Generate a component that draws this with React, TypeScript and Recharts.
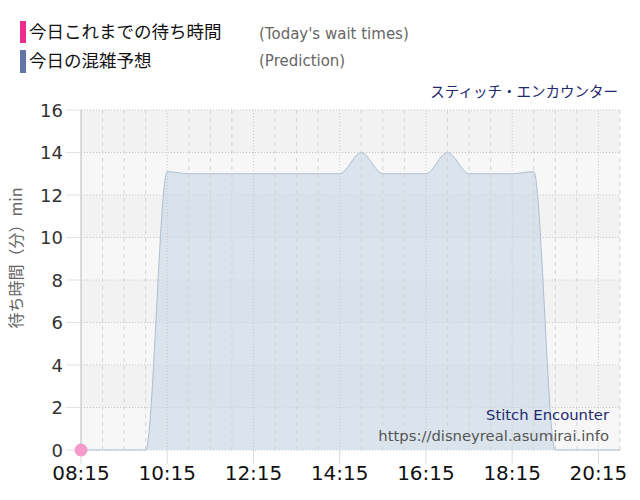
import React from "react";
import {
  ComposedChart,
  Area,
  Line,
  XAxis,
  YAxis,
  CartesianGrid,
  ReferenceLine,
} from "recharts";

// ---- data ----
const times = [
  "08:15", "08:45", "09:15", "09:45", "10:15", "10:45", "11:15", "11:45",
  "12:15", "12:45", "13:15", "13:45", "14:15", "14:45", "15:15", "15:45",
  "16:15", "16:45", "17:15", "17:45", "18:15", "18:45", "19:15", "19:45",
  "20:15", "20:45",
];
const prediction = [
  0, 0, 0, 0, 13.1, 13, 13, 13,
  13, 13, 13, 13, 13, 14, 13, 13,
  13, 14, 13, 13, 13, 13.1, 0, 0,
  0, 0,
];
const todayWait: (number | null)[] = [0];
const xTickLabels = ["08:15", "10:15", "12:15", "14:15", "16:15", "18:15", "20:15"];
const yTicks = [0, 2, 4, 6, 8, 10, 12, 14, 16];

const toMin = (s: string) => {
  const [h, m] = s.split(":").map(Number);
  return h * 60 + m;
};
const fmt = (v: number) => {
  const h = Math.floor(v / 60);
  const m = v % 60;
  return `${String(h).padStart(2, "0")}:${String(m).padStart(2, "0")}`;
};

const data = times.map((t, i) => ({
  t: toMin(t),
  prediction: prediction[i],
  today: i < todayWait.length ? todayWait[i] : null,
}));

const xMin = toMin(times[0]);
const xMax = toMin(times[times.length - 1]);
const xTicks = xTickLabels.map(toMin);
const gridTimes: number[] = [];
for (let v = xMin + 30; v <= xMax; v += 30) gridTimes.push(v);

const LATIN = "'DejaVu Sans', Verdana, sans-serif";
const CJK = "'Noto Sans CJK JP', sans-serif";

const XTick = (props: any) => {
  const { x, y, payload } = props;
  return (
    <text x={x} y={y} dy={15} textAnchor="middle" fontSize={20} fill="#111" fontFamily={LATIN}>
      {fmt(payload.value)}
    </text>
  );
};
const YTick = (props: any) => {
  const { x, y, payload } = props;
  return (
    <text x={x} y={y} dy={6.5} textAnchor="end" fontSize={18} fill="#333" fontFamily={LATIN}>
      {payload.value}
    </text>
  );
};

export default function App() {
  return (
    <div style={{ position: "absolute", left: 0, top: 0, width: 640, height: 500, background: "#fff" }}>
      <ComposedChart
        width={640}
        height={500}
        data={data}
        margin={{ top: 110, right: 20, left: 0, bottom: 0 }}
      >
        <CartesianGrid
          vertical={false}
          stroke="#c4c4c4"
          strokeDasharray="1 2"
          horizontalFill={["#f2f2f2", "#f7f7f7"]}
          fillOpacity={1}
        />
        {gridTimes.map((v) => (
          <ReferenceLine
            key={v}
            x={v}
            stroke={(v - xMin) % 120 === 0 ? "#c8c8c8" : "#d4d4d4"}
            strokeDasharray={(v - xMin) % 120 === 0 ? "1 2" : "4 4"}
          />
        ))}
        <XAxis
          dataKey="t"
          type="number"
          domain={[xMin, xMax]}
          ticks={xTicks}
          interval={0}
          axisLine={false}
          tickLine={{ stroke: "#dcdcdc" }}
          tickSize={14}
          tickMargin={1}
          height={50}
          tick={<XTick />}
        />
        <YAxis
          type="number"
          domain={[0, 16]}
          ticks={yTicks}
          interval={0}
          width={81}
          axisLine={{ stroke: "#b8b8b8" }}
          tickLine={{ stroke: "#e2e2e2" }}
          tickSize={15}
          tickMargin={3}
          tick={<YTick />}
        />
        <Area
          type="monotone"
          dataKey="prediction"
          stroke="#aebfcf"
          strokeWidth={1}
          fill="#cfdce8"
          fillOpacity={0.7}
          dot={false}
          activeDot={false}
          isAnimationActive={false}
        />
        <Line
          dataKey="today"
          stroke="#f0288c"
          strokeWidth={2}
          dot={{ r: 6.5, fill: "#f59bc9", stroke: "none" }}
          activeDot={false}
          connectNulls={false}
          isAnimationActive={false}
        />
      </ComposedChart>
      <svg
        width={640}
        height={500}
        style={{ position: "absolute", left: 0, top: 0, pointerEvents: "none" }}
      >
        <rect x={20} y={21} width={6} height={22} fill="#ee2b8e" />
        <rect x={20} y={50} width={6} height={23} fill="#6176a6" />
        <text x={29} y={38} fontSize={17.5} fill="#111" fontFamily={CJK}>今日これまでの待ち時間</text>
        <text x={29} y={67} fontSize={17.5} fill="#111" fontFamily={CJK}>今日の混雑予想</text>
        <text x={259} y={38.5} fontSize={15} fill="#666" fontFamily={LATIN}>(Today's wait times)</text>
        <text x={259} y={66} fontSize={15} fill="#666" fontFamily={LATIN}>(Prediction)</text>
        <text x={618} y={97} textAnchor="end" fontSize={14.5} fill="#22286e" fontFamily={CJK}>スティッチ・エンカウンター</text>
        <text
          transform="translate(22 258) rotate(-90)"
          textAnchor="middle"
          fontSize={16}
          fill="#666"
          fontFamily={CJK}
        >
          待ち時間（分）min
        </text>
        <text x={609} y={420} textAnchor="end" fontSize={14.8} fill="#22286e" fontFamily={LATIN}>Stitch Encounter</text>
        <text x={609} y={441} textAnchor="end" fontSize={14.8} fill="#555" fontFamily={LATIN}>https://disneyreal.asumirai.info</text>
      </svg>
    </div>
  );
}
